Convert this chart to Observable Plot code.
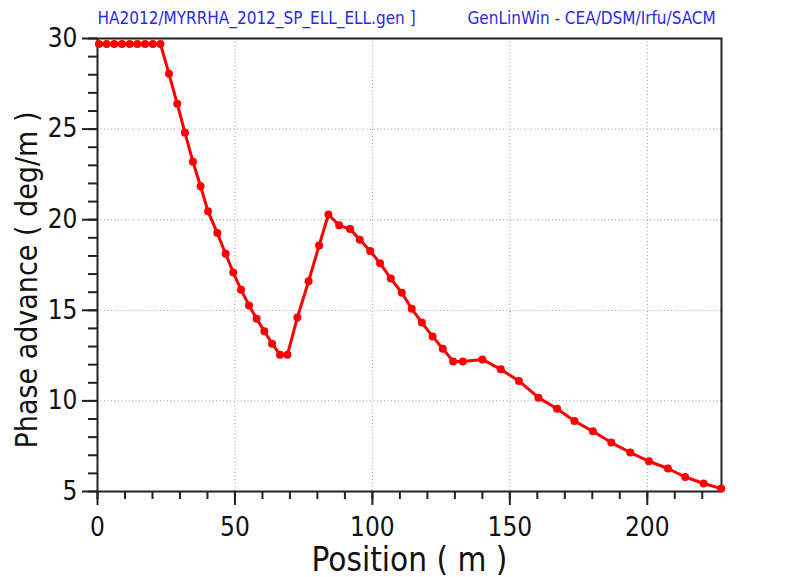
<!DOCTYPE html>
<html>
<head>
<meta charset="utf-8">
<script src="https://cdn.jsdelivr.net/npm/d3@7"></script>
<script src="https://cdn.jsdelivr.net/npm/@observablehq/plot@0.6"></script>
<style>
  body { margin: 0; background: #fff; }
  #chart svg { display: block; }
</style>
</head>
<body>
<div id="chart"></div>
<script>
const positions = [0.5, 3.3, 6.1, 8.9, 11.7, 14.5, 17.3, 20.1, 22.9,
  26.0, 29.0, 31.8, 34.7, 37.5,
  40.2, 43.6, 46.6, 49.4, 52.2, 55.1, 57.9, 60.7, 63.5, 66.4, 69.1,
  72.7, 76.8, 80.6, 84.0,
  87.9, 91.9, 95.4, 99.2, 102.8, 106.7, 110.7, 114.3, 118.0, 121.9, 125.6, 129.4, 132.9,
  140.0, 146.7, 153.3, 160.4, 167.2, 173.5, 180.2, 186.9, 193.8, 200.6, 207.5, 213.8, 220.5, 226.9];
const phaseAdvance = [29.7, 29.7, 29.7, 29.7, 29.7, 29.7, 29.7, 29.7, 29.7,
  28.05, 26.4, 24.8, 23.2, 21.85,
  20.46, 19.26, 18.12, 17.08, 16.14, 15.27, 14.54, 13.84, 13.16, 12.55, 12.55,
  14.6, 16.6, 18.57, 20.29,
  19.69, 19.48, 18.9, 18.27, 17.6, 16.75, 15.97, 15.09, 14.32, 13.56, 12.88, 12.18, 12.18,
  12.29, 11.74, 11.1, 10.18, 9.57, 8.89, 8.32, 7.70, 7.15, 6.67, 6.27, 5.80, 5.44, 5.16];
const xMajorTicks = [0, 50, 100, 150, 200];
const xMinorTicks = d3.range(0, 227, 10);
const yMajorTicks = [5, 10, 15, 20, 25, 30];
const yMinorTicks = d3.range(5, 31, 1);
const headerLeft = "HA2012/MYRRHA_2012_SP_ELL_ELL.gen ]";
const headerRight = "GenLinWin - CEA/DSM/Irfu/SACM";
const xLabel = "Position ( m )";
const yLabel = "Phase advance ( deg/m )";

const data = positions.map((p, i) => ({x: p, y: phaseAdvance[i]}));
const font = "Tahoma, 'DejaVu Sans Condensed', 'DejaVu Sans', sans-serif";
const gridStyle = {stroke: "#999", strokeOpacity: 1, strokeWidth: 1, strokeDasharray: "1,2.5"};

const chart = Plot.plot({
  width: 785,
  height: 577,
  marginTop: 38,
  marginLeft: 97,
  marginRight: 64,
  marginBottom: 86,
  style: {fontFamily: font, background: "#fff", color: "#111"},
  x: {domain: [0, 227]},
  y: {domain: [5, 30]},
  marks: [
    Plot.gridX(xMajorTicks.filter(d => d > 0), gridStyle),
    Plot.gridY(yMajorTicks.filter(d => d > 5 && d < 30), gridStyle),
    Plot.axisX({ticks: xMinorTicks, tickSize: 8, tickFormat: () => "", strokeWidth: 2, label: null, stroke: "#222"}),
    Plot.axisX({ticks: xMajorTicks, tickSize: 14, tickPadding: 12, fontSize: 26, strokeWidth: 2, label: null, stroke: "#222"}),
    Plot.axisY({ticks: yMinorTicks, tickSize: 9, tickFormat: () => "", strokeWidth: 2, label: null, stroke: "#222"}),
    Plot.axisY({ticks: yMajorTicks, tickSize: 15, tickPadding: 5, fontSize: 26, strokeWidth: 2, label: null, stroke: "#222"}),
    Plot.frame({stroke: "#222", strokeWidth: 2}),
    Plot.line(data, {x: "x", y: "y", stroke: "#ff0000", strokeWidth: 3}),
    Plot.dot(data, {x: "x", y: "y", r: 4, fill: "#ff0000", stroke: "none"}),
    Plot.text([xLabel], {frameAnchor: "bottom", dy: 79, fontSize: 33, fill: "#111", fontFamily: font}),
    Plot.text([yLabel], {frameAnchor: "left", dx: -70, dy: 15, rotate: -90, textAnchor: "middle", fontSize: 30, fill: "#111", fontFamily: font}),
    Plot.text([headerLeft], {frameAnchor: "top-left", dx: 0, dy: -26.5, textAnchor: "start", fontSize: 17, fill: "#2a2ae6", fontFamily: font}),
    Plot.text([headerRight], {frameAnchor: "top-left", dx: 370, dy: -26.5, textAnchor: "start", fontSize: 17, fill: "#2a2ae6", fontFamily: font})
  ]
});
document.getElementById("chart").appendChild(chart);
</script>
</body>
</html>
